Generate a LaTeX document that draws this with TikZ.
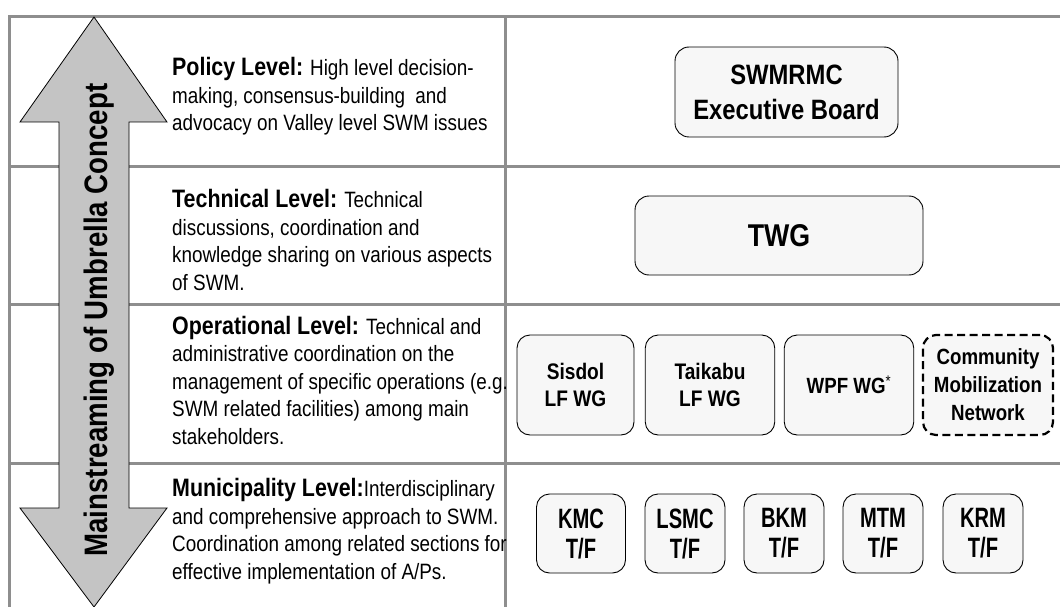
\documentclass[tikz,border=0pt]{standalone}
\usepackage{fontspec}
\setmainfont{Liberation Sans}[FakeStretch=0.85]
\newfontfamily\tfnarrow{Liberation Sans}[FakeStretch=0.72]
\definecolor{gridgray}{HTML}{8E8E8E}
\definecolor{arrowfill}{HTML}{C4C4C4}
\definecolor{boxfill}{HTML}{F7F7F7}
\newcommand\lvlhead[1]{{\fontsize{25.2}{27.5}\selectfont\bfseries #1}}
\begin{document}
\begin{tikzpicture}[x=1pt,y=-1pt,
  gridline/.style={draw=gridgray,line width=3pt},
  unitbox/.style={draw=black,line width=0.9pt,fill=boxfill,rounded corners=13pt,
    align=center,inner sep=0pt,font=\bfseries},
  dashbox/.style={unitbox,line width=2.2pt,dash pattern=on 8pt off 4.5pt},
  leveltext/.style={anchor=base west,align=left,inner sep=0pt,
    font=\fontsize{22.2}{27.5}\selectfont},
  bigarrow/.style={draw=black,line width=0.8pt,fill=arrowfill,line join=miter}]
\useasboundingbox (0,0) rectangle (1060,607);

% table frame
\draw[gridline] (1060,17) -- (9,17) -- (9,607);
\draw[gridline] (505,17) -- (505,607);
\draw[gridline] (9,166) -- (1060,166);
\draw[gridline] (9,304) -- (1060,304);
\draw[gridline] (9,463) -- (1060,463);

% two-headed arrow in the first column
\draw[bigarrow] (94,17) -- (167,122) -- (129,122) -- (129,508) -- (167,508)
  -- (94,607) -- (20,508) -- (59,508) -- (59,122) -- (20,122) -- cycle;
\node[rotate=90,anchor=base,inner sep=0pt,font=\fontsize{32.5}{32.5}\selectfont\bfseries]
  (concept) at (107,320) {Mainstreaming of Umbrella Concept};

% level descriptions (anchored at the baseline of the last line)
\node[leveltext] (policy) at (172,131) {\lvlhead{Policy Level:} High level decision-\\
  making, consensus-building\ \ and\\
  advocacy on Valley level SWM issues};
\node[leveltext] (technical) at (172,290) {\lvlhead{Technical Level:} Technical\\
  discussions, coordination and\\
  knowledge sharing on various aspects\\
  of SWM.};
\node[leveltext] (operational) at (172,444) {\lvlhead{Operational Level:} Technical and\\
  administrative coordination on the\\
  management of specific operations (e.g.\\
  SWM related facilities) among main\\
  stakeholders.};
\node[leveltext] (municipal) at (172,579) {\lvlhead{Municipality Level:}Interdisciplinary\\
  and comprehensive approach to SWM.\\
  Coordination among related sections for\\
  effective implementation of A/Ps.};

% policy level
\node[unitbox,minimum width=223pt,minimum height=90pt,rounded corners=14pt,
  font=\fontsize{28}{35}\selectfont\bfseries] (board) at (786.5,92)
  {SWMRMC\\Executive Board};

% technical level
\node[unitbox,minimum width=288pt,minimum height=79pt,rounded corners=14pt,
  font=\fontsize{31.5}{32}\selectfont\bfseries] (twg) at (779,235.5) {TWG};

% operational level
\tikzset{opbox/.style={unitbox,minimum height=100pt,
  font=\fontsize{22.5}{27}\selectfont\bfseries}}
\node[opbox,minimum width=117pt] (sisdol) at (575.5,385) {Sisdol\\LF WG};
\node[opbox,minimum width=129.5pt] (taikabu) at (710,385) {Taikabu\\LF WG};
\node[opbox,minimum width=129.5pt,font=\fontsize{22}{27}\selectfont\bfseries]
  (wpf) at (849,385) {WPF WG{\mdseries\textsuperscript{*}}};
\node[dashbox,minimum width=130pt,minimum height=100pt,
  font=\fontsize{22}{28}\selectfont\bfseries] (cmn) at (988,385)
  {Community\\Mobilization\\Network};

% municipality level
\tikzset{tfbox/.style={unitbox,minimum height=79pt,minimum width=80pt,
  font=\tfnarrow\fontsize{28}{30}\selectfont\bfseries}}
\node[tfbox,minimum width=89pt] (kmc) at (581,533.5) {KMC\\T/F};
\node[tfbox] (lsmc) at (685,533.5) {LSMC\\T/F};
\node[tfbox] (bkm) at (784,533.5) {BKM\\T/F};
\node[tfbox] (mtm) at (883,533.5) {MTM\\T/F};
\node[tfbox] (krm) at (983,533.5) {KRM\\T/F};
\end{tikzpicture}
\end{document}
